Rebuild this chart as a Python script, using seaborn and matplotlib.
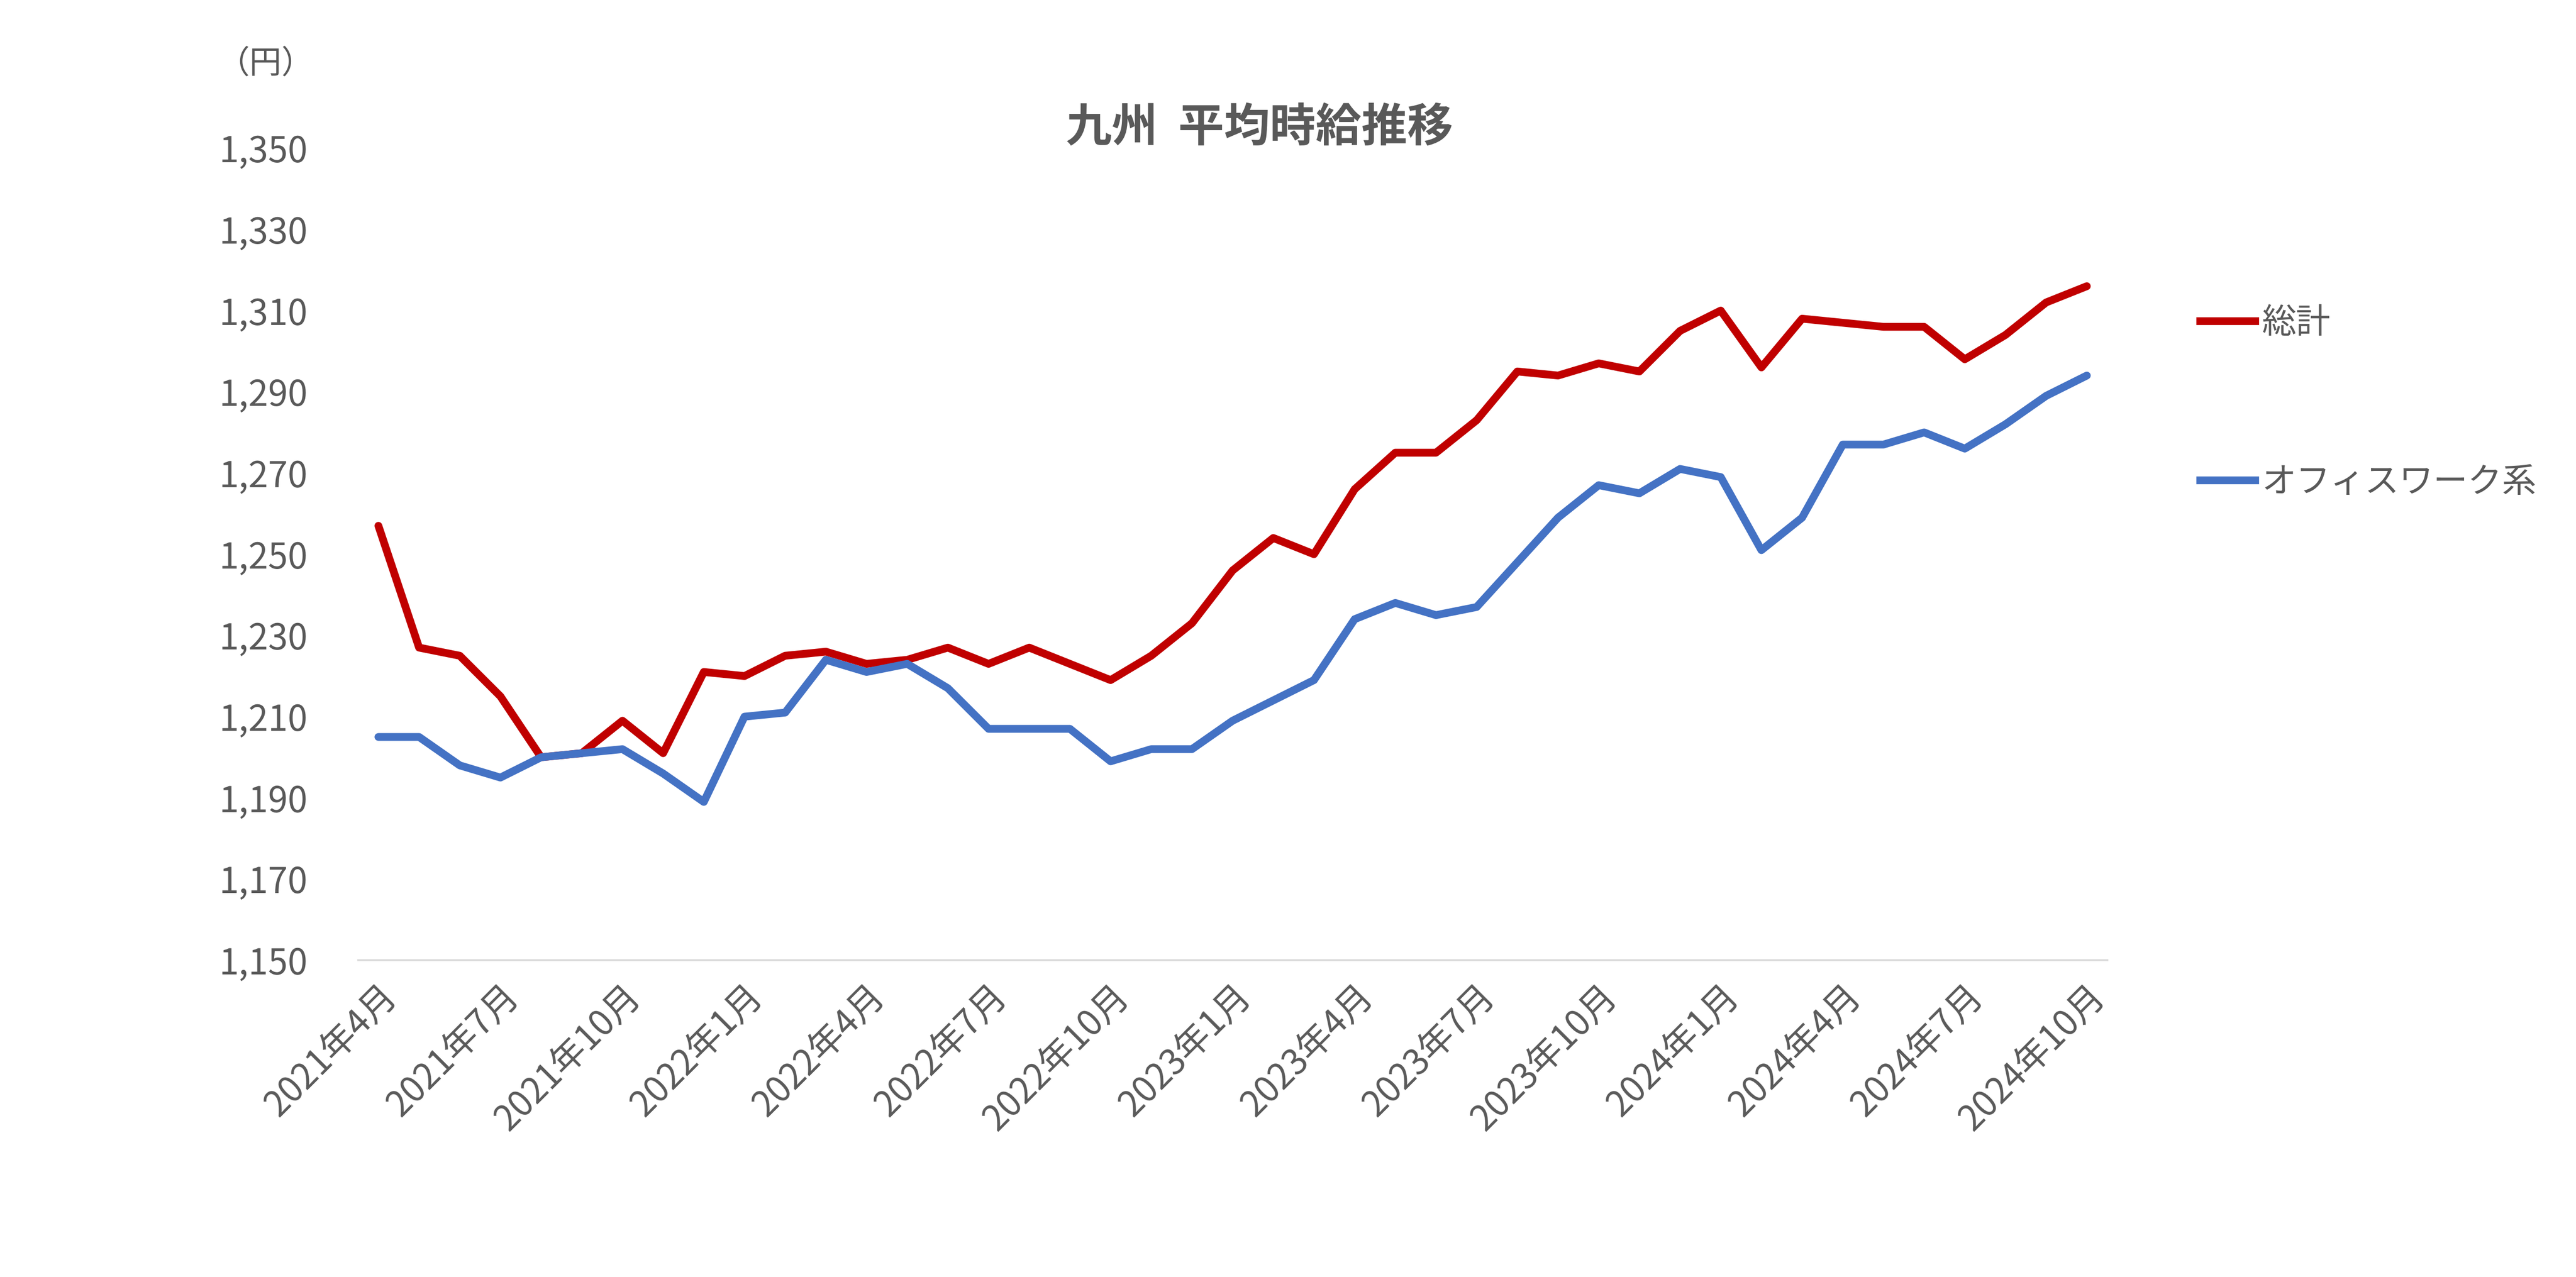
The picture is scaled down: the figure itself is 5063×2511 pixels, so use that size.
import matplotlib
matplotlib.use("Agg")
import matplotlib.pyplot as plt
import seaborn as sns
import pandas as pd
from matplotlib.lines import Line2D

plt.rcParams["font.family"] = "Noto Sans CJK JP"

months = [f"{y}年{m}月" for y in range(2021, 2025) for m in range(1, 13)]
months = months[3:3 + 43]
total = [1257, 1227, 1225, 1215, 1200, 1201, 1209, 1201, 1221, 1220, 1225, 1226,
         1223, 1224, 1227, 1223, 1227, 1223, 1219, 1225, 1233, 1246, 1254, 1250,
         1266, 1275, 1275, 1283, 1295, 1294, 1297, 1295, 1305, 1310, 1296, 1308,
         1307, 1306, 1306, 1298, 1304, 1312, 1316]
office = [1205, 1205, 1198, 1195, 1200, 1201, 1202, 1196, 1189, 1210, 1211, 1224,
          1221, 1223, 1217, 1207, 1207, 1207, 1199, 1202, 1202, 1209, 1214, 1219,
          1234, 1238, 1235, 1237, 1248, 1259, 1267, 1265, 1271, 1269, 1251, 1259,
          1277, 1277, 1280, 1276, 1282, 1289, 1294]
series_names = ["総計", "オフィスワーク系"]
colors = ["#C00000", "#4472C4"]
yticks = list(range(1150, 1351, 20))

df = pd.DataFrame({"idx": list(range(len(months))) * 2,
                   "value": total + office,
                   "series": [series_names[0]] * len(months) + [series_names[1]] * len(months)})

fig = plt.figure(figsize=(5063 / 324, 2511 / 324), dpi=324)
ax = fig.add_axes([0.139, 0.248, 0.679, 0.636])
sns.lineplot(data=df, x="idx", y="value", hue="series", palette=colors, ax=ax,
             linewidth=3.4, legend=False, solid_joinstyle="round", solid_capstyle="round")
ax.set_xlim(-0.5, len(months) - 0.5)
ax.set_ylim(1150, 1350)
ax.set_yticks(yticks)
ax.set_yticklabels([f"{v:,}" for v in yticks], fontsize=15.5, color="#595959")
ticks = list(range(0, len(months), 3))
ax.set_xticks(ticks)
ax.set_xticklabels([months[i] for i in ticks], rotation=45, ha="right",
                   rotation_mode="anchor", fontsize=15.5, color="#595959")
for s in ["top", "right", "left"]:
    ax.spines[s].set_visible(False)
ax.spines["bottom"].set_color("#D9D9D9")
ax.tick_params(axis="y", length=0, pad=22)
ax.tick_params(axis="x", length=0, pad=8)
ax.set_xlabel("")
ax.set_ylabel("")

fig.text(0.489, 0.9, "九州  平均時給推移", ha="center", va="center", fontsize=20,
         fontweight="bold", color="#595959")
fig.text(0.103, 0.95, "（円）", ha="center", va="center", fontsize=14, color="#595959")

handles = [Line2D([], [], color=c, lw=3.4) for c in colors]
fig.legend(handles, series_names, loc="upper left", bbox_to_anchor=(0.842, 0.785),
           frameon=False, fontsize=15, labelcolor="#595959", handlelength=1.6,
           handletextpad=0.2, labelspacing=3.6)
fig.savefig("out.png", dpi=324)
